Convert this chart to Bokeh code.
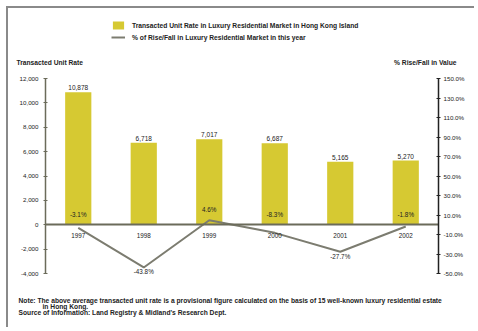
from bokeh.plotting import figure
from bokeh.models import (ColumnDataSource, Range1d, LinearAxis, FixedTicker,
                          NumeralTickFormatter, PrintfTickFormatter, Label,
                          Legend, LegendItem)
from bokeh.core.properties import value
from bokeh.embed import file_html
from bokeh.resources import INLINE

years = ["1997", "1998", "1999", "2000", "2001", "2002"]
unit_rate = [10878, 6718, 7017, 6687, 5165, 5270]
unit_rate_labels = ["10,878", "6,718", "7,017", "6,687", "5,165", "5,270"]
pct_change = [-3.1, -43.8, 4.6, -8.3, -27.7, -1.8]
pct_labels = ["-3.1%", "-43.8%", "4.6%", "-8.3%", "-27.7%", "-1.8%"]
left_ticks = [-4000, -2000, 0, 2000, 4000, 6000, 8000, 10000, 12000]
right_ticks = [-50, -30, -10, 10, 30, 50, 70, 90, 110, 130, 150]

BAR = "#D6C932"
LINE = "#7C7C70"
FONT = "Liberation Sans"
TXT = "#222222"
BIG = "6.7px"

W, H = 468, 321
# frame pixel box (canvas coords): left, right, top, bottom
FL, FR, FT, FB = 37, 430, 70, 265
n = len(years)
xs = list(range(n))
ppx = (FR - FL) / n
X0 = -0.5 - FL / ppx
X1 = n - 0.5 + (W - FR) / ppx
YLO, YHI = left_ticks[0], left_ticks[-1]
upy = (YHI - YLO) / (FB - FT)
Y1 = YHI + FT * upy
Y0 = YLO - (H - FB) * upy
PLO, PHI = right_ticks[0], right_ticks[-1]
ppy = (PHI - PLO) / (FB - FT)
P1 = PHI + FT * ppy
P0 = PLO - (H - FB) * ppy

def dx(px):
    return X0 + px / W * (X1 - X0)

def dy(py):
    return Y1 - py / H * (Y1 - Y0)

src = ColumnDataSource(dict(
    x=xs, year=years, rate=unit_rate, rate_lbl=unit_rate_labels,
    pct=pct_change, pct_lbl=pct_labels,
    pct_ly=[max(v, 0) if v > -20 else v for v in pct_change],
    pct_base=["bottom" if v > -20 else "top" for v in pct_change],
    pct_off=[-7 if v > -20 else 1 for v in pct_change],
))

p = figure(width=W, height=H, x_range=Range1d(X0, X1), y_range=Range1d(Y0, Y1),
           output_backend="svg", toolbar_location=None,
           min_border_left=0, min_border_top=0, min_border_right=0,
           min_border_bottom=0, min_border=0)
p.margin = (6, 0, 0, 6)
p.styles = {"border-left": "2px solid #8a8a8a", "border-top": "2px solid #8a8a8a"}
p.outline_line_color = None
p.grid.visible = False
p.extra_y_ranges = {"pct": Range1d(P0, P1)}

bars = p.vbar(x="x", top="rate", width=0.4, source=src, fill_color=BAR,
              line_color=None)
ln = p.line(x="x", y="pct", source=src, y_range_name="pct",
            line_color=LINE, line_width=2)

p.text(x="x", y="rate", text="rate_lbl", source=src, text_align="center",
       text_baseline="bottom", y_offset=-2, text_font=value(FONT),
       text_font_size="6.5px", text_color=TXT)
p.text(x="x", y="pct_ly", text="pct_lbl", source=src, y_range_name="pct",
       text_align="center", text_baseline="pct_base", y_offset="pct_off",
       text_font=value(FONT), text_font_size="6.3px", text_color=TXT)

# x axis at zero
xa = p.xaxis[0]
xa.fixed_location = 0
xa.bounds = (-0.5, n - 0.5)
xa.ticker = FixedTicker(ticks=xs)
xa.major_label_overrides = {i: y for i, y in zip(xs, years)}
xa.axis_line_color = "#6b6b5a"
xa.axis_line_width = 2
xa.major_tick_line_color = None
xa.minor_tick_line_color = None
xa.major_label_text_font = FONT
xa.major_label_text_font_size = "6.3px"
xa.major_label_text_color = TXT
xa.major_label_standoff = 2

ya = p.yaxis[0]
ya.fixed_location = -0.5
ya.bounds = (YLO, YHI)
ya.ticker = FixedTicker(ticks=left_ticks)
ya.formatter = NumeralTickFormatter(format="0,0")
ya.axis_line_color = "#6b6b5a"
ya.axis_line_width = 1.5
ya.major_tick_in = 2
ya.major_tick_out = 2
ya.major_tick_line_color = "#6b6b5a"
ya.minor_tick_line_color = None
ya.major_label_text_font = FONT
ya.major_label_text_font_size = "6.2px"
ya.major_label_text_color = TXT
ya.major_label_standoff = 5

ra = LinearAxis(y_range_name="pct", ticker=FixedTicker(ticks=right_ticks),
                formatter=PrintfTickFormatter(format="%.1f%%"))
ra.fixed_location = n - 0.5
ra.bounds = (PLO, PHI)
ra.axis_line_color = "#222222"
ra.axis_line_width = 1.5
ra.major_tick_in = 2
ra.major_tick_out = 2
ra.major_tick_line_color = "#222222"
ra.minor_tick_line_color = None
ra.major_label_text_font = FONT
ra.major_label_text_font_size = "6.2px"
ra.major_label_text_color = TXT
ra.major_label_standoff = 3
p.add_layout(ra, "right")

legend = Legend(items=[
    LegendItem(label="Transacted Unit Rate in Luxury Residential Market in Hong Kong Island", renderers=[bars]),
    LegendItem(label="% of Rise/Fall in Luxury Residential Market in this year", renderers=[ln]),
], location=(103, H - 34), orientation="vertical")
legend.background_fill_alpha = 0
legend.border_line_color = None
legend.label_text_font = FONT
legend.label_text_font_style = "bold"
legend.label_text_font_size = BIG
legend.label_text_color = TXT
legend.glyph_width = 14
legend.glyph_height = 10
legend.label_height = 10
legend.spacing = 2
legend.padding = 2
legend.margin = 0
legend.label_standoff = 7
p.add_layout(legend, "center")

def lab(text, px, py, align="left"):
    p.add_layout(Label(x=dx(px), y=dy(py), text=text,
                       text_font=FONT, text_font_style="bold",
                       text_font_size=BIG, text_color=TXT,
                       text_align=align, text_baseline="middle"))

lab("Transacted Unit Rate", 8, 54)
lab("% Rise/Fall in Value", 448, 54, "right")
lab("Note: The above average transacted unit rate is a provisional figure calculated on the basis of 15 well-known luxury residential estate", 10, 292)
lab("in Hong Kong.", 34, 298)
lab("Source of Information: Land Registry & Midland's Research Dept.", 10, 304)

open("out.html", "w").write(file_html(p, INLINE))
